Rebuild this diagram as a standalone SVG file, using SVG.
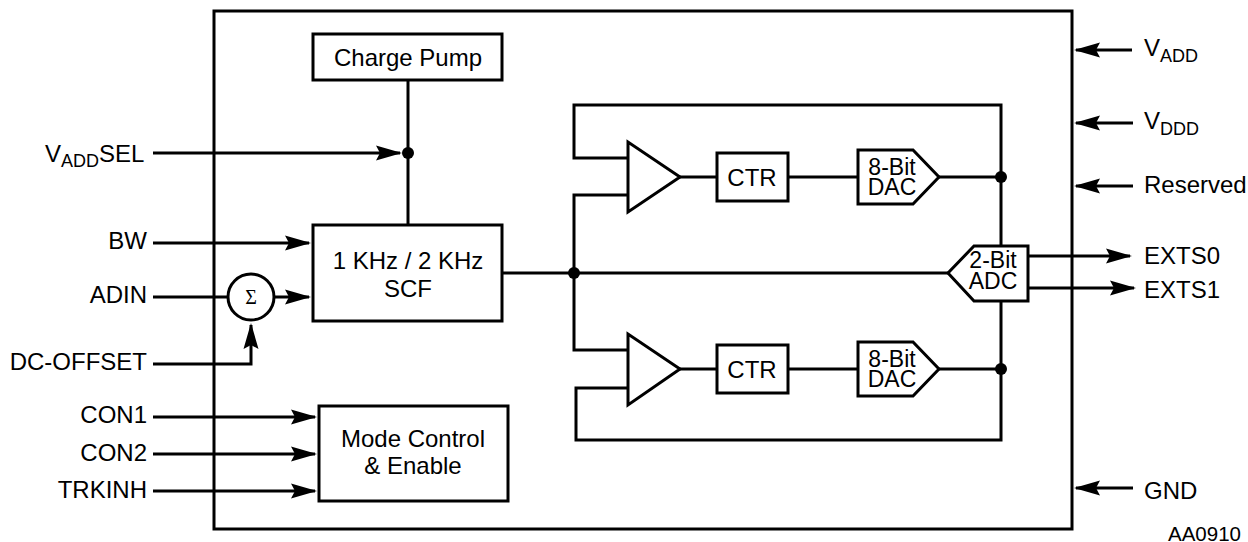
<svg xmlns="http://www.w3.org/2000/svg" width="1248" height="542" viewBox="0 0 1248 542">
<style>
.l{fill:none;stroke:#000;stroke-width:3}
.b{fill:#fff;stroke:#000;stroke-width:3}
.t{font-family:"Liberation Sans",Arial,sans-serif;font-size:24px;fill:#000}
.m{text-anchor:middle}
.e{text-anchor:end}
.s{font-size:18px}
.n{font-size:23px}
.d{fill:#000}
</style>
<defs>
<marker id="a" markerUnits="userSpaceOnUse" markerWidth="28" markerHeight="18" refX="24" refY="9" orient="auto"><path d="M0 1.5L26 9L0 16.5L4 9Z" fill="#000"/></marker>
</defs>
<rect width="1248" height="542" fill="#fff"/>
<g id="connectors">
<path class="l" d="M153 153H400" marker-end="url(#a)"/>
<path class="l" d="M153 243H309" marker-end="url(#a)"/>
<path class="l" d="M153 297H228"/>
<path class="l" d="M274 297H309" marker-end="url(#a)"/>
<path class="l" d="M153 364H251V325" marker-end="url(#a)"/>
<path class="l" d="M153 417H315" marker-end="url(#a)"/>
<path class="l" d="M153 454H315" marker-end="url(#a)"/>
<path class="l" d="M153 491H315" marker-end="url(#a)"/>
<path class="l" d="M408 80V225"/>
<path class="l" d="M502 273H948"/>
<path class="l" d="M627 158H574V105H1001V440H576V388H627"/>
<path class="l" d="M627 195H574V350H627"/>
<path class="l" d="M680 177H716M788 177H858M939 177H1001"/>
<path class="l" d="M680 369H716M788 369H858M939 369H1001"/>
<path class="l" d="M1028 256H1130" marker-end="url(#a)"/>
<path class="l" d="M1028 288H1134" marker-end="url(#a)"/>
<path class="l" d="M1132 50H1076" marker-end="url(#a)"/>
<path class="l" d="M1133 123H1076" marker-end="url(#a)"/>
<path class="l" d="M1133 186H1076" marker-end="url(#a)"/>
<path class="l" d="M1133 488H1076" marker-end="url(#a)"/>
<circle class="d" cx="408" cy="153" r="6"/>
<circle class="d" cx="574" cy="273" r="6"/>
<circle class="d" cx="1001" cy="177" r="6"/>
<circle class="d" cx="1001" cy="369" r="6"/>
</g>
<g id="outer"><rect x="214" y="11" width="858" height="518" class="l"/></g>
<g id="charge-pump"><rect x="313" y="34" width="189" height="46" class="b"/><text class="t m" x="408" y="66">Charge Pump</text></g>
<g id="scf"><rect x="313" y="225" width="189" height="96" class="b"/><text class="t m" x="408" y="269">1 KHz / 2 KHz</text><text class="t m" x="408" y="297">SCF</text></g>
<g id="mode"><rect x="319" y="406" width="189" height="95" class="b"/><text class="t m" x="413" y="447">Mode Control</text><text class="t m" x="413" y="474">&amp; Enable</text></g>
<g id="sum"><circle class="b" cx="251" cy="297" r="23"/><text x="251" y="304" text-anchor="middle" style="font-family:'Liberation Serif',serif;font-size:20px">Σ</text></g>
<g id="amp1"><path class="b" d="M628 142V212L680 177Z"/></g>
<g id="ctr1"><rect x="717" y="153" width="71" height="48" class="b"/><text class="t m" x="752" y="186">CTR</text></g>
<g id="dac1"><path class="b" d="M858 150H913L939 177L913 204H858Z"/><text class="t m n" x="892" y="175">8-Bit</text><text class="t m n" x="892" y="195">DAC</text></g>
<g id="amp2"><path class="b" d="M628 334V405L680 369Z"/></g>
<g id="ctr2"><rect x="717" y="345" width="71" height="48" class="b"/><text class="t m" x="752" y="378">CTR</text></g>
<g id="dac2"><path class="b" d="M858 342H913L939 369L913 396H858Z"/><text class="t m n" x="892" y="367">8-Bit</text><text class="t m n" x="892" y="387">DAC</text></g>
<g id="adc"><path class="b" d="M1028 246H974L948 273L974 301H1028Z"/><text class="t m n" x="993" y="268">2-Bit</text><text class="t m n" x="993" y="289">ADC</text></g>
<g id="labels">
<text class="t" x="45" y="162">V<tspan class="s" dy="5">ADD</tspan><tspan dy="-5">SEL</tspan></text>
<text class="t e" x="147" y="249">BW</text>
<text class="t e" x="147" y="303">ADIN</text>
<text class="t e" x="147" y="370">DC-OFFSET</text>
<text class="t e" x="147" y="423">CON1</text>
<text class="t e" x="147" y="461">CON2</text>
<text class="t e" x="147" y="498">TRKINH</text>
<text class="t" x="1144" y="56">V<tspan class="s" dy="6">ADD</tspan></text>
<text class="t" x="1144" y="129">V<tspan class="s" dy="6">DDD</tspan></text>
<text class="t" x="1144" y="193">Reserved</text>
<text class="t" x="1144" y="264">EXTS0</text>
<text class="t" x="1144" y="298">EXTS1</text>
<text class="t" x="1144" y="499">GND</text>
<text class="t" x="1168" y="541" style="font-size:20.5px">AA0910</text>
</g>
</svg>
